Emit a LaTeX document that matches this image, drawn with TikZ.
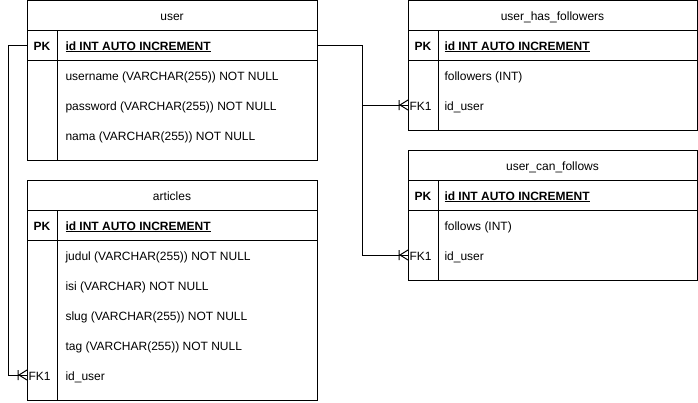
\documentclass[tikz,border=0pt]{standalone}
\usepackage{fontspec}
\setmainfont{Liberation Sans}
\usetikzlibrary{positioning}

% crow's foot (one-to-many) end
\pgfdeclarearrow{
  name = CrowFoot,
  setup code = {
    \pgfarrowssettipend{0pt}
    \pgfarrowssetlineend{0pt}
    \pgfarrowssetbackend{-9.5pt}
    \pgfarrowsupperhullpoint{0pt}{5pt}
    \pgfarrowsupperhullpoint{-9.5pt}{5pt}
  },
  drawing code = {
    \pgfpathmoveto{\pgfqpoint{0pt}{5pt}}
    \pgfpathlineto{\pgfqpoint{-8pt}{0pt}}
    \pgfpathlineto{\pgfqpoint{0pt}{-5pt}}
    \pgfpathmoveto{\pgfqpoint{-9pt}{5pt}}
    \pgfpathlineto{\pgfqpoint{-9pt}{-5pt}}
    \pgfusepathqstroke
  }
}

\begin{document}
\begin{tikzpicture}[x=1pt, y=-1pt, line width=1pt,
    tbl/.style={rectangle, draw, anchor=north west, minimum width=290pt, inner sep=0pt, outer sep=0pt},
    hdr/.style={tbl, minimum height=30pt, text height=10pt, text depth=0pt, font=\fontsize{12}{14}\selectfont},
    keycol/.style={rectangle, draw, anchor=north west, minimum width=30pt, inner sep=0pt, outer sep=0pt},
    key/.style={inner sep=0pt, text height=10pt, text depth=0pt, font=\fontsize{12}{14}\selectfont\bfseries},
    fk/.style={anchor=west, inner sep=0pt, text height=10pt, text depth=0pt, font=\fontsize{12}{14}\selectfont},
    field/.style={anchor=west, inner sep=0pt, text height=10pt, text depth=0pt, font=\fontsize{12}{14}\selectfont},
    pkfield/.style={field, font=\fontsize{12}{14}\selectfont\bfseries},
    rel/.style={draw, -CrowFoot}
]
\useasboundingbox (0,0) rectangle (698,402);

% user (top left)
\node[tbl, minimum height=160pt] (user) at (27,0) {};
\node[hdr] (user-h) at (27,0) {user};
\node[tbl, minimum height=30pt] (user-pk) at (27,30) {};
\node[keycol, minimum height=130pt] (user-kc) at (27,30) {};
\node[key] (user-pkk) at (42,45) {PK};
\node[pkfield] (user-id) at (65,45) {\underline{id INT AUTO INCREMENT}};
\foreach \txt [count=\i] in {username (VARCHAR(255)) NOT NULL, password (VARCHAR(255)) NOT NULL, nama (VARCHAR(255)) NOT NULL} {
    \node[field] (user-f\i) at (65,{45+30*\i}) {\txt};
}

% articles (bottom left)
\node[tbl, minimum height=220pt] (art) at (27,180) {};
\node[hdr] (art-h) at (27,180) {articles};
\node[tbl, minimum height=30pt] (art-pk) at (27,210) {};
\node[keycol, minimum height=190pt] (art-kc) at (27,210) {};
\node[key] (art-pkk) at (42,225) {PK};
\node[pkfield] (art-id) at (65,225) {\underline{id INT AUTO INCREMENT}};
\foreach \txt [count=\i] in {judul (VARCHAR(255)) NOT NULL, isi (VARCHAR) NOT NULL, slug (VARCHAR(255)) NOT NULL, tag (VARCHAR(255)) NOT NULL, id\_user} {
    \node[field] (art-f\i) at (65,{225+30*\i}) {\txt};
}
\node[fk] (art-fk) at (28,375) {FK1};

% user_has_followers (top right)
\node[tbl, minimum width=289pt, minimum height=130pt] (uhf) at (408,0) {};
\node[hdr, minimum width=289pt] (uhf-h) at (408,0) {user\_has\_followers};
\node[tbl, minimum width=289pt, minimum height=30pt] (uhf-pk) at (408,30) {};
\node[keycol, minimum height=100pt] (uhf-kc) at (408,30) {};
\node[key] (uhf-pkk) at (423,45) {PK};
\node[pkfield] (uhf-id) at (444,45) {\underline{id INT AUTO INCREMENT}};
\node[field] (uhf-f1) at (444,75) {followers (INT)};
\node[field] (uhf-f2) at (444,105) {id\_user};
\node[fk] (uhf-fk) at (409,105) {FK1};

% user_can_follows (bottom right)
\node[tbl, minimum width=289pt, minimum height=130pt] (ucf) at (408,150) {};
\node[hdr, minimum width=289pt] (ucf-h) at (408,150) {user\_can\_follows};
\node[tbl, minimum width=289pt, minimum height=30pt] (ucf-pk) at (408,180) {};
\node[keycol, minimum height=100pt] (ucf-kc) at (408,180) {};
\node[key] (ucf-pkk) at (423,195) {PK};
\node[pkfield] (ucf-id) at (444,195) {\underline{id INT AUTO INCREMENT}};
\node[field] (ucf-f1) at (444,225) {follows (INT)};
\node[field] (ucf-f2) at (444,255) {id\_user};
\node[fk] (ucf-fk) at (409,255) {FK1};

% relations
\draw[rel] (user-pk.west) -- ++(-19,0) |- (art.west |- art-fk);
\draw[rel] (user-pk.east) -- ++(45,0) |- (uhf.west |- uhf-fk);
\draw[rel] (user-pk.east) -- ++(45,0) |- (ucf.west |- ucf-fk);

\end{tikzpicture}
\end{document}
